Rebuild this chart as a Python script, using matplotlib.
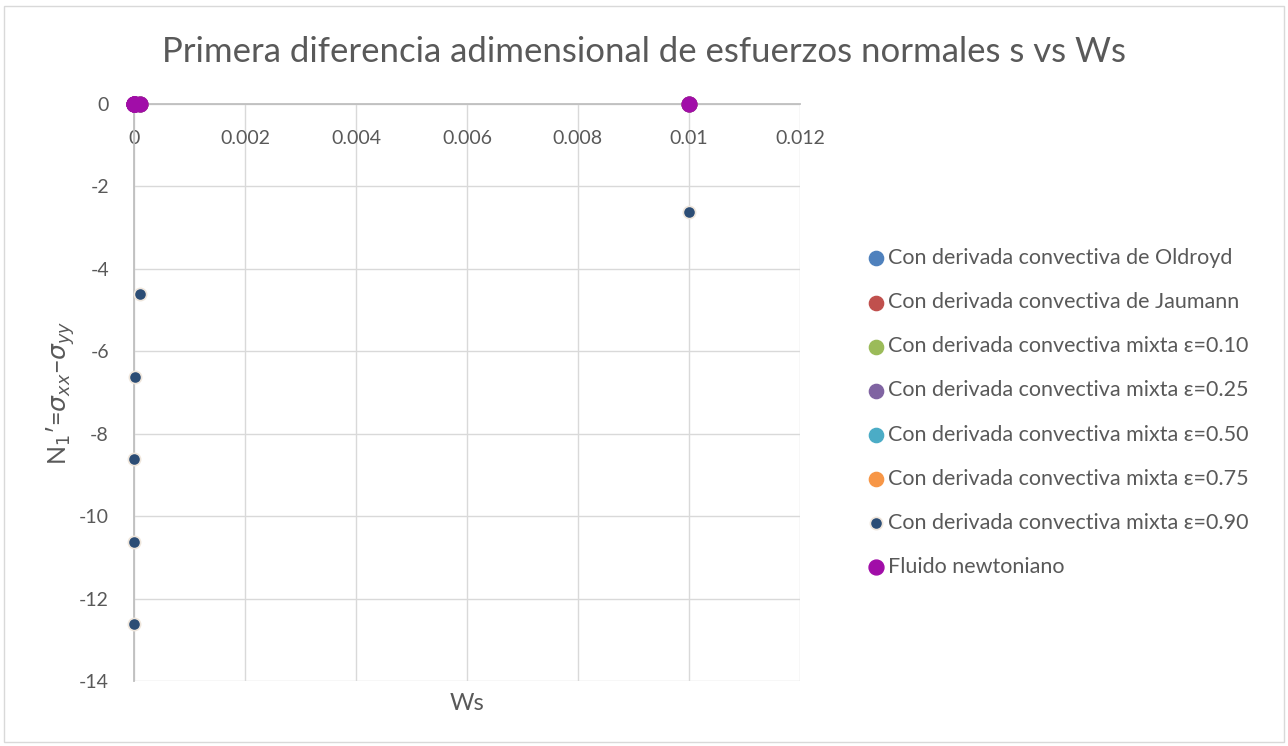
import matplotlib.pyplot as plt
from matplotlib.patches import Rectangle

# Ws values and N1' values
ws = [0.01, 0.0001, 0.00001, 0.000001, 0.0000001, 0.00000001]
n1_090 = [-2.62, -4.62, -6.62, -8.62, -10.62, -12.62]
n1_newton = [0, 0, 0, 0, 0, 0]
n1_hidden = [0, 0, 0, 0, 0, 0]

hidden_series = [
    ("Con derivada convectiva de Oldroyd", "#4F81BD"),
    ("Con derivada convectiva de Jaumann", "#C0504D"),
    ("Con derivada convectiva mixta ε=0.10", "#9BBB59"),
    ("Con derivada convectiva mixta ε=0.25", "#8064A2"),
    ("Con derivada convectiva mixta ε=0.50", "#4BACC6"),
    ("Con derivada convectiva mixta ε=0.75", "#F79646"),
]

text_color = "#595959"
grid_color = "#d9d9d9"

plt.rcParams["font.family"] = ["Lato", "DejaVu Sans"]
plt.rcParams["axes.unicode_minus"] = False

fig = plt.figure(figsize=(12.88, 7.46), dpi=100)
ax = fig.add_axes([0.104, 0.0871, 0.517, 0.7735])

for label, color in hidden_series:
    ax.scatter(ws, n1_hidden, s=105, color=color, label=label, clip_on=False, zorder=3)

ax.scatter(ws, n1_090, s=78, color="#2C4D75", edgecolors="#efe6dc", linewidths=1.2,
           label="Con derivada convectiva mixta ε=0.90", clip_on=False, zorder=4)
ax.scatter(ws, n1_newton, s=115, color="#A10DA8", label="Fluido newtoniano",
           clip_on=False, zorder=5)

ax.set_xlim(0, 0.012)
ax.set_ylim(-14, 0)
ax.set_xticks([0, 0.002, 0.004, 0.006, 0.008, 0.01, 0.012])
ax.set_xticklabels(["0", "0.002", "0.004", "0.006", "0.008", "0.01", "0.012"])
ax.set_yticks(range(-14, 1, 2))
ax.grid(True, color=grid_color, linewidth=1)
ax.set_axisbelow(True)
for side in ["right", "bottom"]:
    ax.spines[side].set_visible(False)
ax.spines["left"].set_color("#bfbfbf")
ax.spines["top"].set_color("#bfbfbf")
ax.spines["left"].set_linewidth(1.3)
ax.spines["top"].set_linewidth(1.3)

ax.xaxis.set_ticks_position("top")
ax.tick_params(axis="x", length=0, pad=-31, labelsize=14, colors=text_color)
ax.tick_params(axis="y", length=0, pad=18, labelsize=14, colors=text_color)

fig.text(0.5, 0.93, "Primera diferencia adimensional de esfuerzos normales s vs Ws",
         ha="center", va="center", fontsize=25, color=text_color)
fig.text(0.3625, 0.057, "Ws", ha="center", va="center", fontsize=17, color=text_color)
fig.text(0.047, 0.474, r"N$_1$′=$\sigma_{xx}$−$\sigma_{yy}$", rotation=90,
         ha="center", va="center", fontsize=18, color=text_color)

leg = fig.legend(loc="center left", bbox_to_anchor=(0.665, 0.447), frameon=False,
                 fontsize=15.5, labelcolor=text_color, handletextpad=0.05,
                 labelspacing=1.12, borderaxespad=0, handlelength=1)

fig.patches.append(Rectangle((0.003, 0.006), 0.994, 0.986, transform=fig.transFigure,
                             fill=False, edgecolor="#d9d9d9", linewidth=1))

fig.savefig("out.png", dpi=100)
